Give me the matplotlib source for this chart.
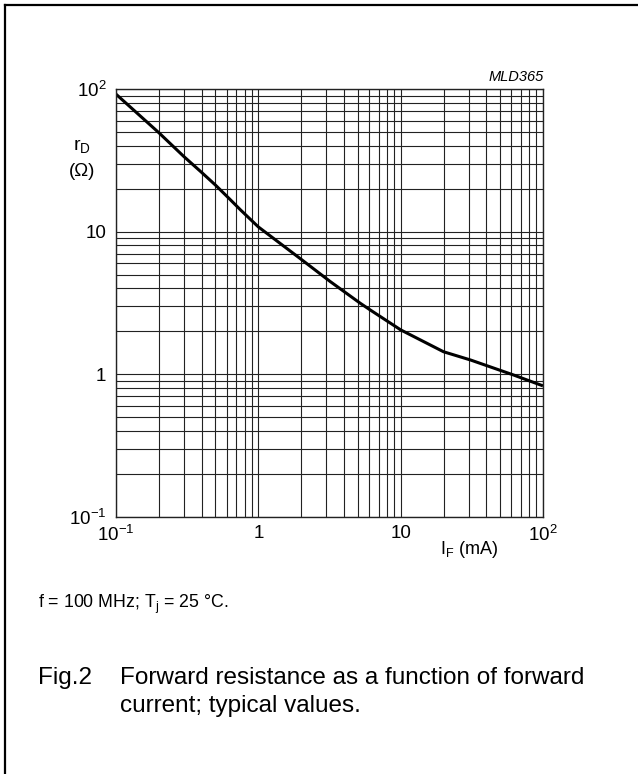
import matplotlib
matplotlib.use("Agg")
import matplotlib.pyplot as plt
from matplotlib.ticker import LogLocator, NullFormatter, FixedLocator, FixedFormatter
from matplotlib.lines import Line2D

plt.rcParams['font.family'] = ['Liberation Sans', 'DejaVu Sans']
plt.rcParams['mathtext.fontset'] = 'custom'
plt.rcParams['mathtext.rm'] = 'Liberation Sans'
plt.rcParams['mathtext.it'] = 'Liberation Sans:italic'
plt.rcParams['mathtext.bf'] = 'Liberation Sans:bold'

# data
current_mA = [0.1, 0.2, 0.3, 0.4, 0.5, 0.63, 0.75, 1.0, 2.0, 3.2, 5.2, 6.1, 10, 20, 31, 62, 100]
resistance_ohm = [92, 49.4, 33.6, 26, 21.2, 16.9, 14.2, 10.8, 6.4, 4.47, 3.15, 2.83, 2.05, 1.44, 1.26, 0.99, 0.83]

x_ticks = [0.1, 1, 10, 100]
x_ticklabels = ['$10^{-1}$', '1', '10', '$10^{2}$']
y_ticks = [0.1, 1, 10, 100]
y_ticklabels = ['$10^{-1}$', '1', '10', '$10^{2}$']

W, H = 638, 774
fig = plt.figure(figsize=(W / 100, H / 100), dpi=100)

def fx(px):
    return px / W

def fy(py):
    return 1 - py / H

ax = fig.add_axes([fx(116), fy(517), (543 - 116) / W, (517 - 89) / H])
ax.set_xscale('log')
ax.set_yscale('log')
ax.set_xlim(0.1, 100)
ax.set_ylim(0.1, 100)

ax.grid(True, which='both', color='#222222', linewidth=0.8)
ax.set_axisbelow(True)
ax.plot(current_mA, resistance_ohm, color='black', linewidth=2.2, solid_capstyle='butt')

ax.xaxis.set_major_locator(FixedLocator(x_ticks))
ax.xaxis.set_major_formatter(FixedFormatter(x_ticklabels))
ax.yaxis.set_major_locator(FixedLocator(y_ticks))
ax.yaxis.set_major_formatter(FixedFormatter(y_ticklabels))
ax.xaxis.set_minor_locator(LogLocator(base=10, subs=range(2, 10)))
ax.yaxis.set_minor_locator(LogLocator(base=10, subs=range(2, 10)))
ax.xaxis.set_minor_formatter(NullFormatter())
ax.yaxis.set_minor_formatter(NullFormatter())
ax.tick_params(which='both', length=0)
ax.tick_params(axis='x', pad=6, labelsize=13.5)
ax.tick_params(axis='y', pad=7, labelsize=13.5)
for s in ax.spines.values():
    s.set_color('#222222')
    s.set_linewidth(1.0)

# axis titles
fig.text(fx(82), fy(146), r'r$_{\mathregular{D}}$', ha='center', va='center', fontsize=14)
fig.text(fx(82), fy(172), '(Ω)', ha='center', va='center', fontsize=13.5)
fig.text(fx(440), fy(549), r'I$_{\mathregular{F}}$ (mA)', ha='left', va='center', fontsize=13)
fig.text(fx(544), fy(77), 'MLD365', ha='right', va='center', fontsize=10.5, style='italic')

# notes and caption
fig.text(fx(38), fy(604), r'f = 100 MHz; T$_{\mathregular{j}}$ = 25 °C.', ha='left', va='center', fontsize=12.8)
fig.text(fx(38), fy(678), 'Fig.2', ha='left', va='center', fontsize=17.5)
fig.text(fx(120), fy(678), 'Forward resistance as a function of forward', ha='left', va='center', fontsize=17.5)
fig.text(fx(120), fy(706), 'current; typical values.', ha='left', va='center', fontsize=17.5)

# outer frame (top and left edges)
fig.add_artist(Line2D([fx(5), 1.0], [fy(5), fy(5)], color='black', linewidth=1.6, transform=fig.transFigure))
fig.add_artist(Line2D([fx(5), fx(5)], [fy(5), 0.0], color='black', linewidth=1.6, transform=fig.transFigure))

fig.savefig('out.png', dpi=100)
